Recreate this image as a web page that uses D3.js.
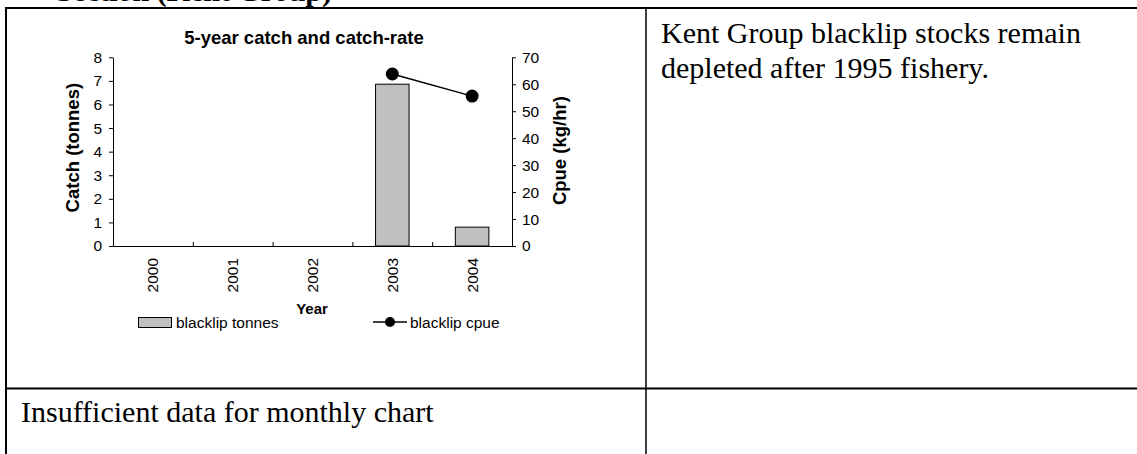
<!DOCTYPE html>
<html>
<head>
<meta charset="utf-8">
<script src="https://cdn.jsdelivr.net/npm/d3@7"></script>
<style>
  html, body { margin: 0; padding: 0; background: #fff; }
  svg { display: block; }
</style>
</head>
<body>
<svg id="chart" width="1137" height="454"></svg>
<script>
// ---- data ----
const years = ["2000", "2001", "2002", "2003", "2004"];
const catchTonnes = [null, null, null, 6.86, 0.8];
const cpue = [null, null, null, 63.8, 55.6];
const leftTicks = [0, 1, 2, 3, 4, 5, 6, 7, 8];
const rightTicks = [0, 10, 20, 30, 40, 50, 60, 70];
const chartTitle = "5-year catch and catch-rate";
const leftTitle = "Catch (tonnes)";
const rightTitle = "Cpue (kg/hr)";
const xTitle = "Year";
const seriesNames = ["blacklip tonnes", "blacklip cpue"];
const heading = "Section (Kent Group)";
const commentLines = ["Kent Group blacklip stocks remain", "depleted after 1995 fishery."];
const monthlyNote = "Insufficient data for monthly chart";

const svg = d3.select("#chart");
const sans = "'Liberation Sans', Arial, sans-serif";
const serif = "'Liberation Serif', 'Times New Roman', serif";

// ---- document table ----
const tbl = svg.append("g");
tbl.append("text").attr("x", 332).attr("y", 1).attr("text-anchor", "end")
  .attr("font-family", serif).attr("font-weight", "bold").attr("font-size", 30).text(heading);
tbl.append("line").attr("x1", 5).attr("x2", 1137).attr("y1", 8).attr("y2", 8).attr("stroke", "#000").attr("stroke-width", 2);
tbl.append("line").attr("x1", 6).attr("x2", 6).attr("y1", 7).attr("y2", 454).attr("stroke", "#000").attr("stroke-width", 2);
tbl.append("line").attr("x1", 646).attr("x2", 646).attr("y1", 8).attr("y2", 454).attr("stroke", "#000").attr("stroke-width", 1.5);
tbl.append("line").attr("x1", 5).attr("x2", 1137).attr("y1", 388.5).attr("y2", 388.5).attr("stroke", "#000").attr("stroke-width", 2);
tbl.selectAll("text.cm").data(commentLines).join("text").attr("class", "cm")
  .attr("x", 661).attr("y", (d, i) => 43 + i * 35)
  .attr("font-family", serif).attr("font-size", 30).text(d => d);
tbl.append("text").attr("x", 21).attr("y", 422)
  .attr("font-family", serif).attr("font-size", 30).text(monthlyNote);

// ---- chart ----
const L = 113, R = 512, T = 57.3, B = 246;
const xBand = d3.scaleBand().domain(years).range([L, R]).padding(0);
const xIdx = d3.scaleLinear().domain([0, years.length]).range([L, R]);
const yL = d3.scaleLinear().domain([0, 8]).range([B, T]);
const yR = d3.scaleLinear().domain([0, 70]).range([B, T]);

const g = svg.append("g").attr("font-family", sans);

g.append("text").attr("x", 304).attr("y", 44).attr("text-anchor", "middle")
  .attr("font-weight", "bold").attr("font-size", 18.5).text(chartTitle);

// bars
const bw = xBand.bandwidth() * 0.42;
g.selectAll("rect.bar").data(years.map((y, i) => ({ y, v: catchTonnes[i] })).filter(d => d.v != null))
  .join("rect").attr("class", "bar")
  .attr("x", d => xBand(d.y) + (xBand.bandwidth() - bw) / 2)
  .attr("width", bw)
  .attr("y", d => yL(d.v))
  .attr("height", d => yL(0) - yL(d.v))
  .attr("fill", "#c0c0c0").attr("stroke", "#000").attr("stroke-width", 1);

// axes
const axL = g.append("g").attr("transform", `translate(${L},0)`)
  .call(d3.axisLeft(yL).tickValues(leftTicks).tickSize(4).tickSizeOuter(0).tickPadding(7).tickFormat(d3.format("d")));
const axR = g.append("g").attr("transform", `translate(${R},0)`)
  .call(d3.axisRight(yR).tickValues(rightTicks).tickSize(4).tickSizeOuter(0).tickPadding(6).tickFormat(d3.format("d")));
const axB = g.append("g").attr("transform", `translate(0,${B})`)
  .call(d3.axisBottom(xIdx).tickValues(d3.range(years.length + 1)).tickSize(-4).tickSizeOuter(0).tickFormat(""));
const axBL = g.append("g").attr("transform", `translate(0,${B})`)
  .call(d3.axisBottom(xBand).tickSize(0).tickSizeOuter(0));
axBL.select(".domain").remove();
axBL.selectAll("text").attr("transform", "rotate(-90)")
  .attr("text-anchor", "end").attr("x", -12).attr("y", 0).attr("dy", "0.35em");

[axL, axR, axB, axBL].forEach(a => {
  a.selectAll("text").attr("font-family", sans).attr("font-size", 15.5).attr("fill", "#000");
  a.selectAll("line, path").attr("stroke", "#000").attr("stroke-width", 1);
});

// cpue line
const pts = years.map((y, i) => ({ y, v: cpue[i] })).filter(d => d.v != null);
const cx = d => xBand(d.y) + xBand.bandwidth() / 2;
g.append("path").datum(pts)
  .attr("d", d3.line().x(cx).y(d => yR(d.v)))
  .attr("fill", "none").attr("stroke", "#000").attr("stroke-width", 1.5);
g.selectAll("circle.pt").data(pts).join("circle").attr("class", "pt")
  .attr("cx", cx).attr("cy", d => yR(d.v)).attr("r", 6.5).attr("fill", "#000");

// axis titles
g.append("text").attr("transform", `translate(79,${(T + B) / 2 - 4}) rotate(-90)`)
  .attr("text-anchor", "middle").attr("font-weight", "bold").attr("font-size", 18.5).text(leftTitle);
g.append("text").attr("transform", `translate(566,${(T + B) / 2 - 1}) rotate(-90)`)
  .attr("text-anchor", "middle").attr("font-weight", "bold").attr("font-size", 18.5).text(rightTitle);
g.append("text").attr("x", 312).attr("y", 314).attr("text-anchor", "middle")
  .attr("font-weight", "bold").attr("font-size", 15).text(xTitle);

// legend
const lg = g.append("g");
lg.append("rect").attr("x", 138.5).attr("y", 317.5).attr("width", 33).attr("height", 10)
  .attr("fill", "#c0c0c0").attr("stroke", "#000");
lg.append("text").attr("x", 176).attr("y", 328).attr("font-size", 15.5).text(seriesNames[0]);
lg.append("line").attr("x1", 373).attr("x2", 407).attr("y1", 322).attr("y2", 322).attr("stroke", "#000").attr("stroke-width", 1.5);
lg.append("circle").attr("cx", 390).attr("cy", 322).attr("r", 5).attr("fill", "#000");
lg.append("text").attr("x", 410).attr("y", 328).attr("font-size", 15.5).text(seriesNames[1]);
</script>
</body>
</html>
